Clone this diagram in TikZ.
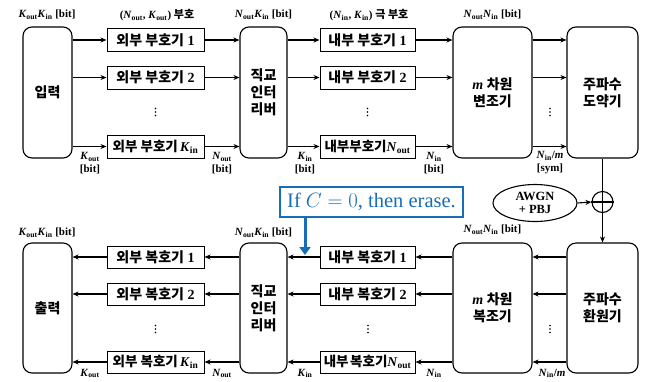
\documentclass[tikz,border=0pt]{standalone}
\usepackage{fontspec}
\setmainfont{Liberation Serif}
\newfontfamily\kr{Noto Sans CJK KR}
\usetikzlibrary{arrows.meta,shapes.geometric}
% bold italic symbol with bold upright subscript
\newcommand\vsym[2]{\textbf{\textit{#1}}\textsubscript{\textbf{#2}}}
\definecolor{erasebl}{RGB}{23,110,183}
\begin{document}
\begin{tikzpicture}[x=1pt,y=-1pt,
  bigbox/.style={draw, rounded corners=9pt, line width=1.1pt, align=center,
    inner sep=0pt, font=\bfseries\fontsize{14}{17}\selectfont},
  codebox/.style={draw, line width=1pt, minimum height=23pt, inner sep=0pt,
    font=\bfseries\fontsize{14}{15}\selectfont},
  tight/.style={font=\bfseries\fontsize{13.5}{15}\selectfont},
  lbl/.style={font=\bfseries\fontsize{11}{12}\selectfont, inner sep=0pt, align=center},
  arr/.style={-{Stealth[length=6pt,width=5pt]}, line width=1.1pt},
  ln/.style={line width=1.1pt}]
\useasboundingbox (0,0) rectangle (650,381);

% ---------- transmitter ----------
\node[bigbox, minimum width=49pt, minimum height=131pt] (in) at (47.5,92.5) {\kr 입력};
\node[bigbox, minimum width=47pt, minimum height=131pt] (int) at (263.5,92.5) {\kr 직교\\\kr 인터\\\kr 리버};
\node[bigbox, minimum width=79pt, minimum height=131pt] (mod) at (492.5,92.5) {\textit{m} {\kr 차원}\\\kr 변조기};
\node[bigbox, minimum width=71pt, minimum height=131pt] (hop) at (602.5,92.5) {\kr 주파수\\\kr 도약기};

\node[codebox, minimum width=97pt] (oe1) at (155.5,40) {{\kr 외부 부호기} 1};
\node[codebox, minimum width=97pt] (oe2) at (155.5,77.5) {{\kr 외부 부호기} 2};
\node[codebox, tight, minimum width=97pt] (oek) at (155.5,146.5) {{\kr 외부 부호기}\,\vsym{K}{in}};
\node[codebox, minimum width=95pt] (ie1) at (367.5,40) {{\kr 내부 부호기} 1};
\node[codebox, minimum width=95pt] (ie2) at (367.5,77.5) {{\kr 내부 부호기} 2};
\node[codebox, tight, minimum width=95pt] (iek) at (367.5,146.5) {{\kr 내부부호기}\vsym{N}{out}};

% vertical ellipses between the rows
\foreach \x in {155.5, 367.5, 550}
  \foreach \dy in {-3.5, 0, 3.5}
    \fill (\x,112+\dy) circle[radius=0.9pt];

\foreach \a/\b in {oe1/ie1, oe2/ie2, oek/iek}{
  \draw[arr] (in.east |- \a.west) -- (\a.west);
  \draw[arr] (\a.east) -- (int.west |- \a.east);
  \draw[arr] (int.east |- \b.west) -- (\b.west);
  \draw[arr] (\b.east) -- (mod.west |- \b.east);
  \draw[arr] (mod.east |- \b.east) -- (hop.west |- \b.east);
}

\node[lbl] (t1) at (47,15) {\vsym{K}{out}\vsym{K}{in} [bit]};
\node[lbl] (t2) at (157,15) {(\vsym{N}{out}, \vsym{K}{out}) {\kr 부호}};
\node[lbl] (t3) at (263.5,15) {\vsym{N}{out}\vsym{K}{in} [bit]};
\node[lbl] (t4) at (369,15) {(\vsym{N}{in}, \vsym{K}{in}) {\kr 극 부호}};
\node[lbl] (t5) at (492.5,15) {\vsym{N}{out}\vsym{N}{in} [bit]};

\node[lbl] (s1) at (90,163) {\vsym{K}{out}\\[1pt][bit]};
\node[lbl] (s2) at (222,163) {\vsym{N}{out}\\[1pt][bit]};
\node[lbl] (s3) at (305,163) {\vsym{K}{in}\\[1pt][bit]};
\node[lbl] (s4) at (434,163) {\vsym{N}{in}\\[1pt][bit]};
\node[lbl] (s5) at (550,163) {\vsym{N}{in}/\textit{m}\\[1pt][sym]};

% ---------- channel ----------
\node[draw, ellipse, line width=1.1pt, minimum width=84pt, minimum height=37pt,
  inner sep=0pt, align=center, font=\bfseries\fontsize{12.5}{13.5}\selectfont] (awgn) at (535,203) {AWGN\\+ PBJ};
\node[draw, circle, line width=1.1pt, minimum size=21pt, inner sep=0pt] (plus) at (602.5,202) {};
\draw[ln] (plus.north) -- (plus.south) (plus.west) -- (plus.east);

% ---------- receiver ----------
\node[bigbox, minimum width=49pt, minimum height=130pt] (out) at (47.5,308) {\kr 출력};
\node[bigbox, minimum width=47pt, minimum height=130pt] (dint) at (263.5,308) {\kr 직교\\\kr 인터\\\kr 리버};
\node[bigbox, minimum width=79pt, minimum height=130pt] (dem) at (492.5,308) {\textit{m} {\kr 차원}\\\kr 복조기};
\node[bigbox, minimum width=71pt, minimum height=130pt] (dhop) at (602.5,308) {\kr 주파수\\\kr 환원기};

\draw[ln] (hop.south) -- (plus.north);
\draw[arr] (plus.south) -- (dhop.north);
\draw[arr] (awgn.east) -- (plus.west);

\node[codebox, minimum width=97pt, minimum height=22pt] (od1) at (155.5,257) {{\kr 외부 복호기} 1};
\node[codebox, minimum width=97pt, minimum height=22pt] (od2) at (155.5,294) {{\kr 외부 복호기} 2};
\node[codebox, tight, minimum width=97pt, minimum height=22pt] (odk) at (155.5,362) {{\kr 외부 복호기}\,\vsym{K}{in}};
\node[codebox, minimum width=95pt, minimum height=22pt] (id1) at (367.5,257) {{\kr 내부 복호기} 1};
\node[codebox, minimum width=95pt, minimum height=22pt] (id2) at (367.5,294) {{\kr 내부 복호기} 2};
\node[codebox, tight, minimum width=95pt, minimum height=22pt] (idk) at (367.5,362) {{\kr 내부\hspace{0.12em}복호기}\vsym{N}{out}};

\foreach \x in {155.5, 368, 550}
  \foreach \dy in {-3.5, 0, 3.5}
    \fill (\x,329+\dy) circle[radius=0.9pt];

\foreach \a/\b in {od1/id1, od2/id2, odk/idk}{
  \draw[arr] (dhop.west |- \b.east) -- (dem.east |- \b.east);
  \draw[arr] (dem.west |- \b.east) -- (\b.east);
  \draw[arr] (\b.west) -- (dint.east |- \b.west);
  \draw[arr] (dint.west |- \a.east) -- (\a.east);
  \draw[arr] (\a.west) -- (out.east |- \a.west);
}

\node[lbl] (b1) at (47,233) {\vsym{K}{out}\vsym{K}{in} [bit]};
\node[lbl] (b2) at (263.5,233) {\vsym{N}{out}\vsym{K}{in} [bit]};
\node[lbl] (b3) at (492.5,230) {\vsym{N}{out}\vsym{N}{in} [bit]};

\node[lbl] (r1) at (90,373.5) {\vsym{K}{out}};
\node[lbl] (r2) at (222,373.5) {\vsym{N}{out}};
\node[lbl] (r3) at (305,373.5) {\vsym{K}{in}};
\node[lbl] (r4) at (434,373.5) {\vsym{N}{in}};
\node[lbl] (r5) at (552,373.5) {\vsym{N}{in}/\textit{m}};

% ---------- erasure note ----------
\node[draw=erasebl, fill=white, line width=2.4pt, minimum width=183pt, minimum height=30pt,
  inner sep=0pt, text=erasebl, font=\fontsize{20.5}{20.5}\selectfont] (note) at (371.5,202) {If $C=0$, then erase.};
\coordinate (erase) at (305,255);
\draw[erasebl, line width=3pt, -{Triangle[length=8pt,width=11pt]}] (note.south -| erase) -- (erase);
\end{tikzpicture}
\end{document}
